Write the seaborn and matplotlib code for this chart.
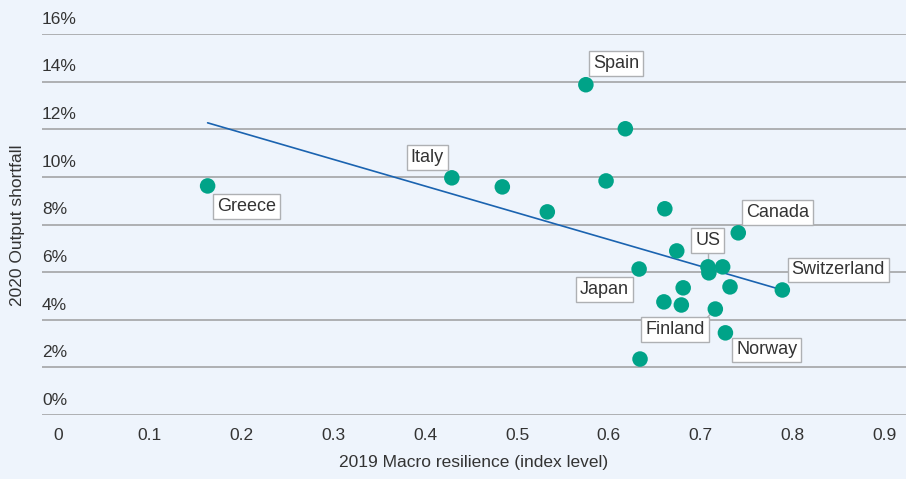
import matplotlib
matplotlib.use("Agg")
import matplotlib.pyplot as plt
import seaborn as sns
import pandas as pd

# data
resilience = [0.163, 0.429, 0.484, 0.533, 0.575, 0.618, 0.597, 0.661, 0.741,
              0.674, 0.633, 0.708, 0.709, 0.724, 0.789, 0.681, 0.732, 0.660,
              0.679, 0.716, 0.727, 0.634]
shortfall = [9.62, 9.96, 9.58, 8.53, 13.87, 12.02, 9.83, 8.66, 7.65,
             6.89, 6.13, 6.22, 5.97, 6.22, 5.25, 5.34, 5.38, 4.75,
             4.62, 4.45, 3.45, 2.35]
trend_x = [0.163, 0.789]
trend_y = [12.27, 5.25]
label_names = ["Spain", "Italy", "Greece", "Canada", "US", "Switzerland",
               "Japan", "Finland", "Norway"]
label_x = [0.608, 0.402, 0.205, 0.784, 0.708, 0.850, 0.595, 0.672, 0.772]
label_y = [14.75, 10.80, 8.74, 8.49, 7.31, 6.09, 5.29, 3.61, 2.73]
y_ticks = [0, 2, 4, 6, 8, 10, 12, 14, 16]
x_ticks = [0, 0.1, 0.2, 0.3, 0.4, 0.5, 0.6, 0.7, 0.8, 0.9]
x_tick_labels = ["0", "0.1", "0.2", "0.3", "0.4", "0.5", "0.6", "0.7", "0.8", "0.9"]

bg = "#EEF4FC"
txt = "#333333"
grid = "#AEB0B3"
sns.set_theme(style="white")
plt.rcParams['font.family'] = ['Liberation Sans', 'DejaVu Sans']

fig = plt.figure(figsize=(9.06, 4.79), dpi=100, facecolor=bg)
ax = fig.add_axes([42/906, 1-415/479, (906-42)/906, (415-34)/479])
ax.set_facecolor(bg)

df = pd.DataFrame({"x": resilience, "y": shortfall})
tdf = pd.DataFrame({"x": trend_x, "y": trend_y})

ax.set_xlim(-0.0174, 0.9237)
ax.set_ylim(0, 16)

for t in y_ticks:
    ax.axhline(t, color=grid, lw=1.4, zorder=1)

sns.lineplot(data=tdf, x="x", y="y", ax=ax, color="#1A63B0", lw=1.2, zorder=3)

# leader lines
ax.plot([0.708, 0.708], [6.95, 6.2], color=grid, lw=1, zorder=2)
ax.plot([0.705, 0.716], [4.0, 4.45], color=grid, lw=1, zorder=2)

sns.scatterplot(data=df, x="x", y="y", ax=ax, color="#00A388", s=125,
                edgecolor="none", zorder=4)

for name, lx, ly in zip(label_names, label_x, label_y):
    ax.text(lx, ly, name, ha="center", va="center", fontsize=13, color=txt,
            zorder=5,
            bbox=dict(boxstyle="square,pad=0.22", fc="white", ec=grid, lw=1))

for s in ax.spines.values():
    s.set_visible(False)

ax.set_yticks([])
for t in y_ticks:
    ax.text(0.0, t + 0.3, f"{t}%", transform=ax.get_yaxis_transform(),
            ha="left", va="bottom", fontsize=12.5, color=txt)

ax.set_xticks(x_ticks)
ax.set_xticklabels(x_tick_labels, fontsize=12.5, color=txt)
ax.tick_params(axis="x", length=0, pad=9)
ax.set_xlabel("2019 Macro resilience (index level)", fontsize=12.5, color=txt, labelpad=9)
ax.set_ylabel("")
fig.text(18/906, 1-225/479, "2020 Output shortfall", rotation=90, ha="center", va="center",
         fontsize=12.5, color=txt)

fig.savefig("out.png", dpi=100, facecolor=bg)
